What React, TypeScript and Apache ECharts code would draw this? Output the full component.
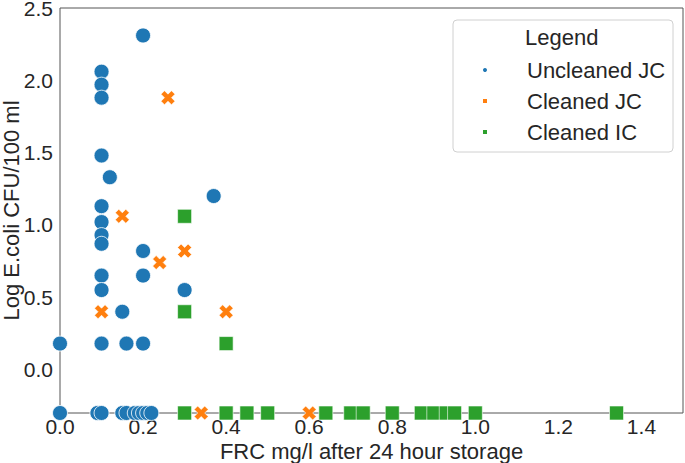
import React, { useEffect, useRef } from "react";
import * as echarts from "echarts";

const seriesNames = ["Uncleaned JC", "Cleaned JC", "Cleaned IC"];
const colors = ["#1f77b4", "#ff7f0e", "#2ca02c"];

const uncleanedX = [0.2, 0.1, 0.1, 0.1, 0.1, 0.12, 0.1, 0.1, 0.1, 0.1, 0.1, 0.1, 0.1, 0, 0.15, 0.16, 0.2, 0.2, 0.2, 0.3, 0.37, 0, 0.09, 0.1, 0.15, 0.16, 0.18, 0.19, 0.2, 0.21, 0.22];
const uncleanedY = [2.31, 2.06, 1.97, 1.88, 1.48, 1.33, 1.13, 1.02, 0.93, 0.87, 0.65, 0.55, 0.18, 0.18, 0.4, 0.18, 0.18, 0.82, 0.65, 0.55, 1.2, -0.3, -0.3, -0.3, -0.3, -0.3, -0.3, -0.3, -0.3, -0.3, -0.3];

const cleanedJCX = [0.26, 0.15, 0.3, 0.24, 0.1, 0.4, 0.34, 0.6];
const cleanedJCY = [1.88, 1.06, 0.82, 0.74, 0.4, 0.4, -0.3, -0.3];

const cleanedICX = [0.3, 0.3, 0.4, 0.3, 0.4, 0.45, 0.5, 0.64, 0.7, 0.73, 0.8, 0.87, 0.9, 0.93, 0.95, 1.0, 1.34];
const cleanedICY = [1.06, 0.4, 0.18, -0.3, -0.3, -0.3, -0.3, -0.3, -0.3, -0.3, -0.3, -0.3, -0.3, -0.3, -0.3, -0.3, -0.3];

const xTicks = [0, 0.2, 0.4, 0.6, 0.8, 1.0, 1.2, 1.4];
const yTicks = [0, 0.5, 1.0, 1.5, 2.0, 2.5];

const xTitle = "FRC mg/l after 24 hour storage";
const yTitle = "Log E.coli CFU/100 ml";
const legendTitle = "Legend";

const FONT = "Liberation Sans, Arial, sans-serif";
const TEXT = "#262626";
const XPATH = "path://M0,2.5 L2.5,0 L5,2.5 L7.5,0 L10,2.5 L7.5,5 L10,7.5 L7.5,10 L5,7.5 L2.5,10 L0,7.5 L2.5,5 Z";

const zip = (xs: number[], ys: number[]) => xs.map((x, i) => [x, ys[i]]);

export default function App() {
  const ref = useRef<HTMLDivElement>(null);
  useEffect(() => {
    if (!ref.current) return;
    const chart = echarts.init(ref.current, null, { renderer: "svg" });
    const axisLabelBase = { color: TEXT, fontSize: 21, fontFamily: FONT, formatter: (v: number) => v.toFixed(1) };
    chart.setOption({
      animation: false,
      grid: {
        left: 60, right: 2, top: 8, bottom: 50,
        containLabel: false, outerBoundsMode: "none",
        show: true, borderColor: "#555", borderWidth: 1, backgroundColor: "transparent",
      },
      xAxis: {
        type: "value",
        min: 0,
        max: 1.5,
        splitLine: { show: false },
        axisTick: { show: false },
        axisLine: { show: false },
        axisLabel: { ...axisLabelBase, margin: 3, customValues: xTicks },
        name: xTitle,
        nameLocation: "middle",
        nameGap: 27,
        nameMoveOverlap: false,
        nameTextStyle: { color: TEXT, fontSize: 22, fontFamily: FONT },
      },
      yAxis: {
        type: "value",
        min: -0.3,
        max: 2.5,
        splitLine: { show: false },
        axisTick: { show: false },
        axisLine: { show: false },
        axisLabel: { ...axisLabelBase, margin: 7, lineHeight: 16, customValues: yTicks },
        name: yTitle,
        nameLocation: "middle",
        nameGap: 38,
        nameMoveOverlap: false,
        nameTextStyle: { color: TEXT, fontSize: 22, fontFamily: FONT },
      },
      legend: {
        orient: "vertical",
        left: 481,
        top: 59,
        padding: 0,
        itemWidth: 6,
        itemHeight: 6,
        itemGap: 9,
        textStyle: { color: TEXT, fontSize: 22, fontFamily: FONT, lineHeight: 22, padding: [0, 0, 0, 34] },
        data: [
          { name: seriesNames[0], icon: "circle" },
          { name: seriesNames[1], icon: "rect" },
          { name: seriesNames[2], icon: "rect" },
        ],
        z: 10,
      },
      graphic: [
        {
          type: "rect",
          shape: { x: 453, y: 20, width: 220, height: 132, r: 4 },
          style: { fill: "rgba(255,255,255,0.8)", stroke: "#d0d0d0", lineWidth: 1 },
          z: 5,
        },
        {
          type: "text",
          x: 525,
          y: 37,
          style: { text: legendTitle, fill: TEXT, font: `22px ${FONT}`, verticalAlign: "middle" },
          z: 6,
        },
      ],
      series: [
        {
          name: seriesNames[0],
          type: "scatter",
          clip: false,
          symbol: "circle",
          symbolSize: 15,
          itemStyle: { color: colors[0], borderColor: "#fff", borderWidth: 0.8, opacity: 1 },
          data: zip(uncleanedX, uncleanedY),
        },
        {
          name: seriesNames[1],
          type: "scatter",
          clip: false,
          symbol: XPATH,
          symbolSize: 14,
          itemStyle: { color: colors[1], borderColor: "#fff", borderWidth: 0.6, opacity: 1 },
          data: zip(cleanedJCX, cleanedJCY),
        },
        {
          name: seriesNames[2],
          type: "scatter",
          clip: false,
          symbol: "rect",
          symbolSize: 14,
          itemStyle: { color: colors[2], borderColor: "#fff", borderWidth: 0.6, opacity: 1 },
          data: zip(cleanedICX, cleanedICY),
        },
      ],
    });
    return () => chart.dispose();
  }, []);
  return <div ref={ref} style={{ position: "absolute", left: 0, top: 0, width: 685, height: 463 }} />;
}
